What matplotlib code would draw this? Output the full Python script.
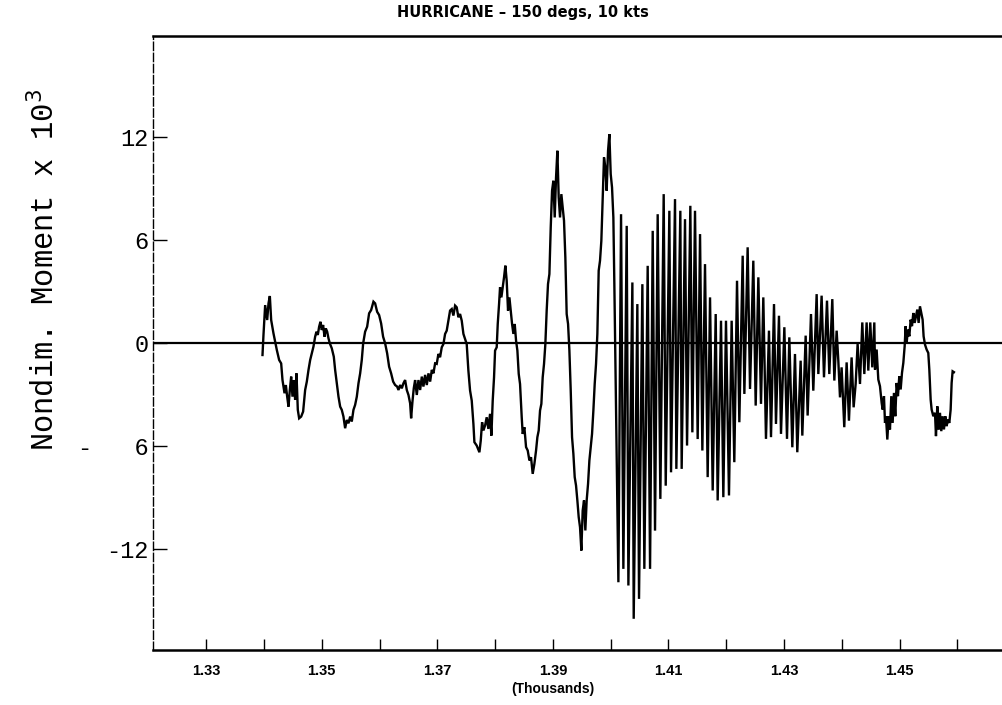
import matplotlib
matplotlib.use("Agg")
import matplotlib.pyplot as plt
from matplotlib.ticker import FixedLocator, FuncFormatter

title = "HURRICANE \u2013 150 degs, 10 kts"
y_label = "Nondim. Moment x 10$^3$"
x_label = "(Thousands)"
y_ticks = [12, 6, 0, -6, -12]
y_tick_labels = ["12", "6", "0", "-   6", "-12"]
x_ticks = list(range(1330, 1461, 10))
x_labeled = [1330, 1350, 1370, 1390, 1410, 1430, 1450]

# time (raw units) and nondimensional moment (x 10^3)
time = [
    1339.75, 1339.92, 1340.21, 1340.56, 1340.79, 1341.02, 1341.25, 1341.65, 1341.94, 1342.23,
    1342.63, 1342.98, 1343.21, 1343.56, 1343.79, 1344.02, 1344.25, 1344.48, 1344.71, 1344.94,
    1345.17, 1345.40, 1345.63, 1345.86, 1346.09, 1346.44, 1346.78, 1347.13, 1347.42, 1347.71,
    1348.00, 1348.28, 1348.57, 1348.86, 1349.09, 1349.32, 1349.55, 1349.78, 1350.01, 1350.24,
    1350.48, 1350.71, 1350.94, 1351.17, 1351.40, 1351.74, 1352.09, 1352.32, 1352.61, 1352.90,
    1353.19, 1353.47, 1353.76, 1354.05, 1354.34, 1354.63, 1354.92, 1355.20, 1355.49, 1355.78,
    1356.07, 1356.36, 1356.65, 1356.93, 1357.17, 1357.51, 1357.86, 1358.20, 1358.55, 1358.95,
    1359.24, 1359.59, 1359.93, 1360.28, 1360.62, 1360.97, 1361.32, 1361.66, 1362.01, 1362.36,
    1362.70, 1363.05, 1363.28, 1363.57, 1363.86, 1364.14, 1364.43, 1364.72, 1365.01, 1365.30,
    1365.47, 1365.70, 1365.93, 1366.16, 1366.45, 1366.74, 1367.03, 1367.32, 1367.60, 1367.89,
    1368.18, 1368.47, 1368.76, 1369.05, 1369.33, 1369.62,
    1369.90, 1370.19, 1370.48, 1370.77, 1371.06, 1371.35, 1371.63, 1371.92, 1372.21, 1372.50,
    1372.79, 1373.08, 1373.36, 1373.65, 1373.94, 1374.23, 1374.52, 1374.81, 1375.09, 1375.38,
    1375.67, 1375.96, 1376.25, 1376.42, 1376.82, 1377.29, 1377.52, 1377.75, 1377.98, 1378.27,
    1378.55, 1378.84, 1379.13, 1379.36, 1379.59, 1379.82, 1380.00, 1380.28, 1380.46, 1380.69,
    1380.86, 1381.09, 1381.32, 1381.55, 1381.78, 1382.01, 1382.24, 1382.48, 1382.71, 1382.94,
    1383.17, 1383.40, 1383.63, 1383.86, 1384.09, 1384.32, 1384.61, 1384.78, 1385.07, 1385.36,
    1385.65, 1385.94, 1386.22, 1386.51, 1386.80, 1387.09, 1387.32, 1387.55, 1387.78, 1388.01,
    1388.24, 1388.47, 1388.70, 1388.93, 1389.16, 1389.40, 1389.63, 1389.86, 1390.09, 1390.32,
    1390.55, 1390.78, 1391.01, 1391.24, 1391.47, 1391.70, 1391.93, 1392.16, 1392.39, 1392.63,
    1392.86, 1393.09, 1393.32, 1393.55, 1393.78, 1394.01, 1394.24, 1394.47, 1394.70, 1394.93,
    1395.16, 1395.39, 1395.62, 1395.85, 1396.09, 1396.32, 1396.55, 1396.78, 1397.01, 1397.24,
    1397.47, 1397.70, 1397.93, 1398.16, 1398.39, 1398.62, 1398.85, 1399.08, 1399.31, 1399.55,
    1399.78, 1400.01, 1400.24, 1400.47, 1400.64,
    1401.34, 1401.80, 1402.20, 1402.78, 1403.07, 1403.76, 1403.99, 1404.62, 1404.91, 1405.49,
    1405.83, 1406.41, 1406.82, 1407.28, 1407.68, 1408.14, 1408.60, 1409.18, 1409.53, 1410.16,
    1410.45, 1411.14, 1411.37, 1412.06, 1412.29, 1412.87, 1413.22, 1413.79, 1414.14, 1414.60,
    1415.06, 1415.47,
    1415.87, 1416.33, 1416.79, 1417.20, 1417.66, 1418.18, 1418.52, 1419.10, 1419.50, 1419.96,
    1420.48, 1420.94, 1421.40, 1421.87, 1422.27, 1422.85, 1423.14, 1423.71, 1424.12, 1424.69,
    1425.10, 1425.56, 1426.02, 1426.42, 1426.88, 1427.40, 1427.75, 1428.27, 1428.61, 1429.13,
    1429.48, 1430.06, 1430.52, 1430.92,
    1431.44, 1431.90, 1432.30, 1432.88, 1433.17, 1433.75, 1434.09, 1434.67, 1435.07, 1435.65,
    1435.94, 1436.51, 1436.92, 1437.44, 1437.84, 1438.36, 1438.71, 1439.11, 1439.40, 1439.69,
    1439.97, 1440.43, 1440.84, 1441.24, 1441.70, 1442.05, 1442.40, 1442.74, 1443.15, 1443.55,
    1443.90, 1444.30, 1444.59, 1444.93, 1445.28, 1445.63,
    1445.75, 1446.03, 1446.32, 1446.61, 1446.90, 1447.07, 1447.30, 1447.48, 1447.65, 1447.88,
    1448.11, 1448.34, 1448.57, 1448.80, 1449.03, 1449.26, 1449.49, 1449.72, 1449.95, 1450.19,
    1450.42, 1450.65, 1450.88, 1451.05, 1451.22, 1451.45, 1451.69, 1451.92, 1452.15, 1452.38,
    1452.61, 1452.84, 1453.07, 1453.30, 1453.53, 1453.76, 1453.99, 1454.16, 1454.40, 1454.68,
    1454.97, 1455.15, 1455.38, 1455.55, 1455.84, 1456.13, 1456.30, 1456.53, 1456.76, 1456.99,
    1457.22, 1457.45, 1457.68, 1457.91, 1458.14, 1458.37, 1458.61, 1458.84, 1459.01, 1459.18,
    1459.41,
]
moment = [
    -0.70, 0.47, 2.21, 1.34, 2.31, 2.74, 1.34, 0.56, 0.08, -0.41,
    -0.99, -1.19, -2.16, -2.93, -2.45, -3.13, -3.71, -2.74, -1.96, -3.13,
    -2.16, -3.32, -1.77, -3.90, -4.39, -4.29, -4.00, -2.74, -2.25, -1.57,
    -0.99, -0.60, -0.21, 0.37, 0.66, 0.47, 0.95, 1.24, 0.76, 1.05,
    0.37, 0.85, 0.66, 0.27, -0.02, -0.31, -0.80, -1.57, -2.35, -3.13,
    -3.71, -3.90, -4.29, -4.97, -4.49, -4.68, -4.29, -4.58, -3.90, -3.61,
    -3.13, -2.35, -1.77, -0.99, -0.02, 0.66, 0.95, 1.73, 1.92, 2.41,
    2.31, 1.82, 1.63, 1.14, 0.37, -0.02, -0.60, -1.38, -1.77, -2.25,
    -2.45, -2.54, -2.74, -2.45, -2.64, -2.35, -2.16, -2.74, -3.03, -3.52,
    -4.39, -3.42, -2.64, -2.16, -3.03, -2.16, -2.74, -1.96, -2.54, -1.86,
    -2.45, -1.77, -2.25, -1.57, -1.77, -1.19,
    -1.22, -0.64, -0.83, -0.25, -0.06, 0.53, 0.72, 1.30, 1.89, 1.98,
    1.60, 2.18, 2.08, 1.50, 1.69, 1.30, 0.53, 0.24, -0.06, -1.61,
    -2.77, -3.36, -4.72, -5.78, -5.98, -6.37, -5.69, -4.62, -5.10, -4.81,
    -4.33, -5.01, -4.13, -5.40, -3.36, -2.00, -0.44, -0.25, 1.11, 2.28,
    3.25, 2.66, 3.25, 3.83, 4.51, 3.63, 1.89, 2.66, 1.89, 1.11,
    0.53, 1.11, 0.14, -0.44, -1.80, -2.39, -4.33, -5.30, -4.91, -6.07,
    -6.27, -6.85, -6.66, -7.63, -7.05, -6.27, -5.49, -5.10, -3.94, -3.55,
    -2.00, -1.22, -0.06, 1.89, 3.44, 4.02, 6.74, 8.88, 9.46, 7.32,
    9.65, 11.21, 8.49, 7.32, 8.68, 7.91, 7.13, 4.99, 1.69, 1.11,
    -0.44, -2.77, -5.49, -6.46, -7.82, -8.31, -9.18, -10.15, -10.74, -12.10,
    -9.77, -9.18, -10.93, -9.18, -8.21, -6.85, -6.07, -5.30, -3.94, -2.39,
    -1.22, 0.53, 4.22, 4.80, 5.96, 8.49, 10.82, 10.24, 8.88, 11.21,
    12.18, 9.85, 9.07, 7.32, 3.44,
    -13.95, 7.51, -13.17, 6.83, -14.14, 3.53, -16.08, 2.27, -14.92, 3.43,
    -13.17, 4.50, -13.17, 6.54, -10.94, 7.51, -9.09, 8.68, -8.32, 7.71,
    -7.54, 8.39, -7.34, 7.71, -7.34, 7.22, -5.98, 8.00, -5.21, 7.71,
    -5.60, 6.35,
    -6.27, 4.60, -7.82, 2.66, -8.60, 1.69, -9.18, 1.30, -8.99, 1.30,
    -8.89, 1.30, -6.95, 3.63, -4.62, 5.09, -2.97, 5.58, -2.68, 4.80,
    -3.65, 3.83, -3.55, 2.66, -5.59, 0.72, -5.49, 2.27, -4.72, 1.59,
    -5.30, 0.92, -5.59, 0.33,
    -6.08, -0.64, -6.37, -1.03, -5.40, 0.43, -4.23, 1.69, -2.78, 2.85,
    -1.81, 2.76, -2.00, 2.47, -1.81, 2.56, -2.19, 0.72, -1.03, -3.17,
    -1.42, -4.91, -1.13, -4.53, -0.84, -3.75, -2.39, -0.06, -2.39, 1.20,
    -1.81, 1.20, -1.61, 1.20, -1.42, 1.20,
    -1.55, -0.38, -2.13, -2.52, -3.49, -3.88, -3.10, -4.66, -4.27, -5.63,
    -4.27, -5.04, -3.10, -4.66, -2.91, -4.27, -2.33, -3.10, -1.94, -2.71,
    -1.74, -1.16, -0.19, 0.98, 0.00, 0.78, 0.39, 1.36, 0.98, 1.75,
    1.17, 1.56, 1.95, 1.17, 2.14, 1.75, 1.36, 0.39, -0.09, -0.38,
    -0.58, -1.55, -3.30, -3.88, -4.27, -4.07, -5.43, -3.69, -5.04, -4.07,
    -5.14, -4.27, -5.04, -4.27, -4.85, -4.46, -4.66, -3.88, -2.33, -1.65,
    -1.70,
]

plt.rcParams["font.family"] = ["DejaVu Sans"]
fig = plt.figure(figsize=(10.03, 7.05), dpi=100)
ax = fig.add_axes([153 / 1003, 55 / 705, 850 / 1003, 614 / 705])

ax.plot(time, moment, color="black", lw=1.7, solid_joinstyle="miter")
ax.axhline(0, color="black", lw=1.6)

ax.set_xlim(1320.8, 1467.9)
ax.set_ylim(-17.9, 17.9)

ax.spines["right"].set_visible(False)
ax.spines["top"].set_linewidth(1.8)
ax.spines["bottom"].set_linewidth(1.8)
ax.spines["left"].set_linewidth(1.0)
ax.spines["left"].set_linestyle((0, (6, 2)))

ax.xaxis.set_major_locator(FixedLocator(x_ticks))
ax.xaxis.set_major_formatter(FuncFormatter(
    lambda v, p: f"{v / 1000:.2f}" if int(round(v)) in x_labeled else ""))
ax.tick_params(axis="x", direction="in", length=8, width=1.0, pad=10,
               labelsize=10.5, top=False)
for lab in ax.get_xticklabels():
    lab.set_fontweight("bold")
    lab.set_family("Liberation Sans")

ax.set_yticks(y_ticks)
ax.set_yticklabels(y_tick_labels, fontfamily="Liberation Mono", fontsize=17)
ax.tick_params(axis="y", direction="in", length=10, width=1.0, pad=3, right=False)

ax.text(1390, -0.052, x_label, transform=ax.get_xaxis_transform(),
        ha="center", va="top", fontsize=10, fontweight="bold",
        family="Liberation Sans")

fig.text(523 / 1003, 1 - 13 / 705, title, ha="center", va="center",
         fontsize=10.5, fontweight="bold", family="DejaVu Sans")
fig.text(45 / 1003, 1 - 270 / 705, y_label, rotation=90, ha="center",
         va="center", fontsize=22, family="Liberation Mono")

fig.savefig("out.png", dpi=100)
